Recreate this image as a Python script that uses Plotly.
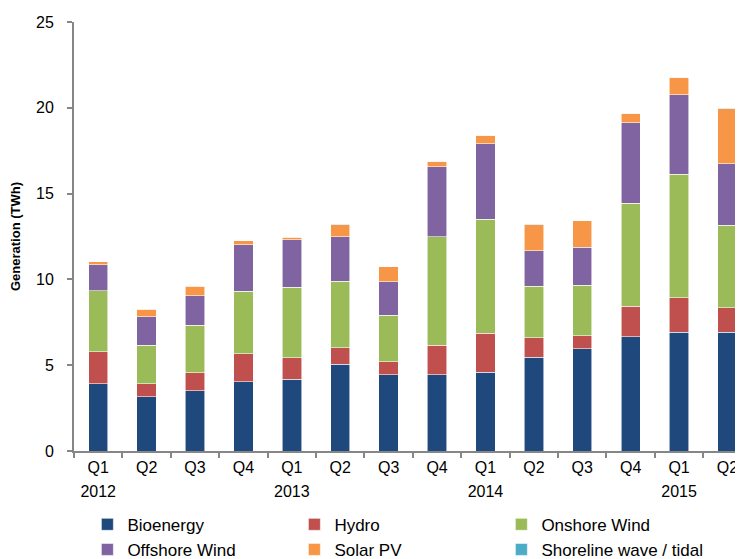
import plotly.graph_objects as go

quarters = ["Q1", "Q2", "Q3", "Q4", "Q1", "Q2", "Q3", "Q4",
            "Q1", "Q2", "Q3", "Q4", "Q1", "Q2"]
years = ["2012", "2013", "2014", "2015"]
# unique category keys (labels repeat)
keys = [f"c{i}" for i in range(len(quarters))]
year_keys = [keys[0], keys[4], keys[8], keys[12]]

bioenergy = [3.91, 3.15, 3.50, 4.03, 4.18, 5.06, 4.43, 4.43, 4.59, 5.47, 5.95, 6.67, 6.91, 6.91]
hydro = [1.87, 0.76, 1.05, 1.63, 1.25, 0.95, 0.76, 1.72, 2.26, 1.12, 0.76, 1.77, 2.02, 1.43]
onshore = [3.55, 2.26, 2.78, 3.66, 4.10, 3.89, 2.73, 6.34, 6.67, 3.02, 2.94, 6.01, 7.20, 4.83]
offshore = [1.52, 1.65, 1.71, 2.70, 2.78, 2.59, 1.94, 4.08, 4.39, 2.06, 2.22, 4.69, 4.62, 3.57]
solar = [0.18, 0.45, 0.57, 0.23, 0.16, 0.70, 0.88, 0.31, 0.49, 1.52, 1.55, 0.54, 1.03, 3.21]
shoreline = [0.01, 0.01, 0.01, 0.01, 0.01, 0.01, 0.01, 0.01, 0.01, 0.01, 0.01, 0.01, 0.01, 0.01]

series = [
    ("Bioenergy", bioenergy, "#1F497D"),
    ("Hydro", hydro, "#C0504D"),
    ("Onshore Wind", onshore, "#9BBB59"),
    ("Offshore Wind", offshore, "#8064A2"),
    ("Solar PV", solar, "#F79646"),
    ("Shoreline wave / tidal", shoreline, "#4BACC6"),
]

fig = go.Figure()
for name, vals, col in series:
    fig.add_trace(go.Bar(x=keys, y=vals, name=name,
                         marker=dict(color=col, line=dict(color="rgba(255,255,255,0.7)", width=0.8))))

# empty helper trace so the year axis gets drawn
fig.add_trace(go.Scatter(x=year_keys, y=[None] * len(year_keys), xaxis="x2",
                         mode="markers", showlegend=False, hoverinfo="skip"))

font = "Liberation Sans, Arial, sans-serif"
xr = [-0.5, 13.32]
fig.update_layout(
    width=735, height=551,  # page body adds an 8px margin
    barmode="stack", bargap=0.6,
    plot_bgcolor="white", paper_bgcolor="white",
    font=dict(family=font, size=16, color="black"),
    margin=dict(l=66, r=0, t=14, b=108, autoexpand=False),
    showlegend=True,
    legend=dict(orientation="h", x=0.02, y=-0.13, xanchor="left", yanchor="top",
                entrywidth=162, entrywidthmode="pixels", traceorder="normal",
                font=dict(size=17), tracegroupgap=0),
    xaxis=dict(type="category", tickvals=keys, ticktext=quarters, automargin=False,
               categoryorder="array", categoryarray=keys,
               range=xr, showline=True, linecolor="#868686", linewidth=2,
               ticks="outside", ticklen=5, tickcolor="#868686", tickwidth=2,
               tickson="boundaries", showgrid=False, ticklabelstandoff=1),
    xaxis2=dict(type="category", overlaying="x", side="bottom", anchor="y",
                categoryorder="array", categoryarray=keys, automargin=False,
                tickvals=year_keys, ticktext=years, range=xr,
                showline=False, ticks="", showgrid=False, ticklabelstandoff=29),
    yaxis=dict(range=[0, 25], dtick=5, showline=True, linecolor="#868686", linewidth=2,
               ticks="outside", ticklen=5, tickcolor="#868686", tickwidth=2, automargin=False,
               showgrid=False, zeroline=False, ticklabelstandoff=10,
               title=dict(text="<b>Generation (TWh)</b>", font=dict(size=13), standoff=22)),
)

fig.write_html("out.html")
